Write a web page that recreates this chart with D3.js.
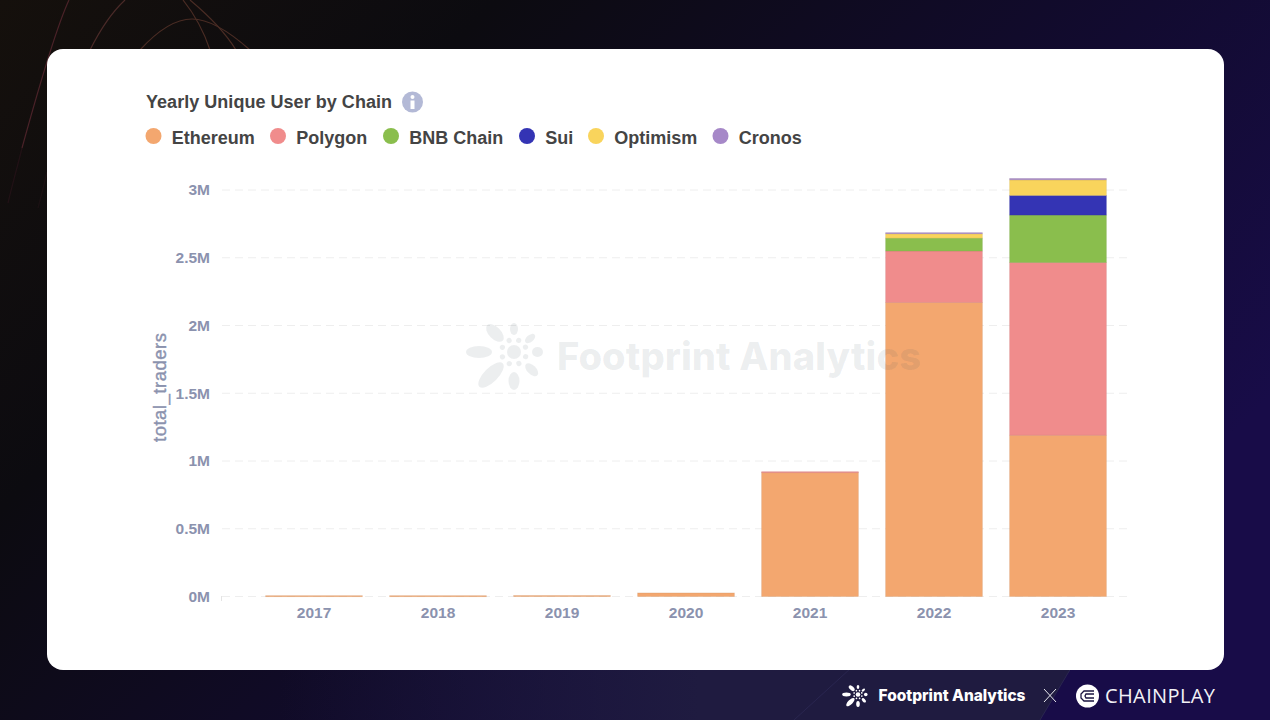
<!DOCTYPE html>
<html>
<head>
<meta charset="utf-8">
<script src="https://cdn.jsdelivr.net/npm/d3@7"></script>
<style>
  html, body { margin: 0; padding: 0; background: #0d0a1c; overflow: hidden; }
  svg { display: block; font-family: "Liberation Sans", Arial, sans-serif; }
</style>
</head>
<body>
<script>
// Chart values (millions of traders)
const years = ['2017', '2018', '2019', '2020', '2021', '2022', '2023'];
const chains = ['Ethereum', 'Polygon', 'BNB Chain', 'Sui', 'Optimism', 'Cronos'];
const ethereum = [0.006, 0.006, 0.007, 0.026, 0.915, 2.17, 1.19];
const polygon = [0, 0, 0, 0, 0.006, 0.38, 1.275];
const bnbChain = [0, 0, 0, 0, 0, 0.095, 0.35];
const sui = [0, 0, 0, 0, 0, 0, 0.145];
const optimism = [0, 0, 0, 0, 0, 0.032, 0.115];
const cronos = [0, 0, 0, 0, 0, 0.008, 0.01];
const yTicks = [0, 0.5, 1, 1.5, 2, 2.5, 3];
const colors = ['#f3a76f', '#f08c8c', '#8abe4d', '#3434b4', '#f9d45c', '#a688c8'];

const width = 1270, height = 720;
const svg = d3.select('body').append('svg')
    .attr('width', width)
    .attr('height', height);

// Page background
const defs = svg.append('defs');
const bg = defs.append('linearGradient').attr('id', 'bg')
    .attr('x1', '0%').attr('y1', '0%').attr('x2', '100%').attr('y2', '55%');
bg.append('stop').attr('offset', '0%').attr('stop-color', '#15100c');
bg.append('stop').attr('offset', '30%').attr('stop-color', '#0c0b10');
bg.append('stop').attr('offset', '70%').attr('stop-color', '#120b30');
bg.append('stop').attr('offset', '100%').attr('stop-color', '#180c48');
svg.append('rect').attr('width', width).attr('height', height).attr('fill', 'url(#bg)');

const glow = defs.append('linearGradient').attr('id', 'glow')
    .attr('gradientUnits', 'userSpaceOnUse')
    .attr('x1', 280).attr('y1', 0).attr('x2', 700).attr('y2', 0);
glow.append('stop').attr('offset', '0%').attr('stop-color', '#1e1a40').attr('stop-opacity', 0);
glow.append('stop').attr('offset', '100%').attr('stop-color', '#1f1b40').attr('stop-opacity', 1);
svg.append('path')
    .attr('d', 'M280,720 L280,660 L1076,660 L1040,720 Z')
    .attr('fill', 'url(#glow)');
svg.append('path')
    .attr('d', 'M851,668 L794,720 M1071,668 L1040,720')
    .attr('fill', 'none').attr('stroke', '#2a2650').attr('stroke-width', 1);

// Curves in the top left corner
const curves = [
    ['M69,0 C55,30 38,90 22,148', '#4a2228', 1],
    ['M22,148 C18,165 12,185 8,203', '#4a1c2c', 0.3],
    ['M47,172 C44,185 41,197 38,208', '#3a1c24', 0.25],
    ['M125,0 C112,12 100,30 90,50', '#4a2a28', 1],
    ['M140,50 C160,28 178,19 192,19 C210,19 232,34 250,50', '#4a2c24', 1],
    ['M183,0 C195,15 205,35 210,50', '#4a2c24', 1],
    ['M190,0 C208,15 225,32 236,50', '#4a2c24', 1]
];
svg.selectAll('.curve').data(curves).enter().append('path')
    .attr('class', 'curve')
    .attr('d', d => d[0])
    .attr('fill', 'none')
    .attr('stroke', d => d[1])
    .attr('stroke-opacity', d => d[2])
    .attr('stroke-width', 1.2);

// White card
svg.append('rect')
    .attr('x', 47).attr('y', 49)
    .attr('width', 1177).attr('height', 621)
    .attr('rx', 16)
    .attr('fill', '#fff');

// Title and info icon
svg.append('text')
    .attr('x', 146).attr('y', 108)
    .attr('font-size', 18).attr('font-weight', 700)
    .attr('fill', '#444')
    .attr('textLength', 246)
    .text('Yearly Unique User by Chain');
const info = svg.append('g').attr('transform', 'translate(412.5,102)');
info.append('circle').attr('r', 10.5).attr('fill', '#b3b9d6');
info.append('circle').attr('cy', -5).attr('r', 2).attr('fill', '#fff');
info.append('rect').attr('x', -2).attr('y', -1.5).attr('width', 4).attr('height', 8.5).attr('fill', '#fff');

// Legend
const legendX = [153.5, 278, 391, 527, 596, 720.5];
const legend = svg.selectAll('.legend').data(chains).enter().append('g')
    .attr('class', 'legend')
    .attr('transform', (d, i) => `translate(${legendX[i]},136)`);
legend.append('circle').attr('r', 8).attr('fill', (d, i) => colors[i]);
legend.append('text')
    .attr('x', 18.3).attr('y', 8)
    .attr('font-size', 18).attr('font-weight', 700)
    .attr('fill', '#444')
    .text(d => d);

// Scales
const x = d3.scaleBand().domain(years).range([252, 1120]).paddingInner(0.22).paddingOuter(0.11);
const y = d3.scaleLinear().domain([0, 3]).range([596.5, 190]);

// Grid lines
svg.selectAll('.grid').data(yTicks).enter().append('line')
    .attr('class', 'grid')
    .attr('x1', 222).attr('x2', 1130)
    .attr('y1', d => y(d)).attr('y2', d => y(d))
    .attr('stroke', '#eeeeee')
    .attr('stroke-dasharray', '8 5');
svg.append('line').attr('x1', 221.5).attr('x2', 221.5).attr('y1', 596).attr('y2', 601).attr('stroke', '#e4e4e4');

// Axes
svg.append('g')
    .attr('transform', 'translate(210,0)')
    .call(d3.axisLeft(y).tickValues(yTicks).tickSize(0).tickPadding(0)
        .tickFormat(d => d + 'M'));
svg.append('g')
    .attr('transform', 'translate(0,596.5)')
    .call(d3.axisBottom(x).tickSize(0).tickPadding(10));
svg.selectAll('.domain').remove();
svg.selectAll('.tick text')
    .attr('font-family', '"Liberation Sans", Arial, sans-serif')
    .attr('font-size', 15.5).attr('font-weight', 700)
    .attr('fill', '#8b92ae');
svg.append('text')
    .attr('transform', 'translate(166,442) rotate(-90)')
    .attr('font-size', 18.5).attr('font-weight', 400)
    .attr('fill', '#8b92ae')
    .attr('stroke', '#8b92ae').attr('stroke-width', 0.4)
    .attr('textLength', 109)
    .text('total_traders');

// Stacked bars
const table = years.map((year, i) => ({
    year,
    Ethereum: ethereum[i],
    Polygon: polygon[i],
    'BNB Chain': bnbChain[i],
    Sui: sui[i],
    Optimism: optimism[i],
    Cronos: cronos[i]
}));
const stacked = d3.stack().keys(chains)(table);
svg.selectAll('.series').data(stacked).enter().append('g')
    .attr('class', 'series')
    .attr('fill', (d, i) => colors[i])
    .attr('stroke', (d, i) => d3.color(colors[i]).darker(0.5))
    .attr('stroke-opacity', 0.35)
    .attr('stroke-width', 0.8)
    .selectAll('rect')
    .data(d => d.filter(p => p[1] > p[0]))
    .enter().append('rect')
    .attr('x', d => x(d.data.year))
    .attr('y', d => y(d[1]))
    .attr('width', x.bandwidth())
    .attr('height', d => Math.max(y(d[0]) - y(d[1]), 1));

// Flower logo, used for the watermark and the footer
const petals = [
    [0, 17, 29, 4], [50, 15, 27, 3.5], [90, 18, 29, 5], [135, 17, 33, 4.5],
    [180, 20, 38, 5.5], [225, 16, 49, 7], [270, 22, 48, 6], [315, 16, 38, 6]
];
const mark = (g, fill, scale) => {
    g.attr('fill', fill);
    petals.forEach(p => {
        g.append('ellipse')
            .attr('cy', -(p[1] + p[2]) / 2 * scale)
            .attr('rx', p[3] * scale)
            .attr('ry', (p[2] - p[1]) / 2 * scale)
            .attr('transform', `rotate(${p[0]})`);
    });
    g.append('circle').attr('r', 7 * scale);
    d3.range(8).forEach(i => {
        g.append('circle')
            .attr('cy', -12.5 * scale)
            .attr('r', 2.6 * scale)
            .attr('transform', `rotate(${i * 45 + 22})`);
    });
};

// Watermark, sits on top of the bars
mark(svg.append('g').attr('transform', 'translate(514,352)'), 'rgba(70,85,100,0.1)', 1);
svg.append('text')
    .attr('x', 557).attr('y', 370)
    .attr('font-family', 'Inter, sans-serif')
    .attr('font-size', 38).attr('font-weight', 800)
    .attr('fill', 'rgba(70,85,100,0.1)')
    .attr('textLength', 364)
    .text('Footprint Analytics');

// Footer logos
mark(svg.append('g').attr('transform', 'translate(858,694.5)'), '#fff', 0.33);
svg.append('text')
    .attr('x', 878.5).attr('y', 701)
    .attr('font-family', 'Inter, sans-serif')
    .attr('font-size', 15.5).attr('font-weight', 800)
    .attr('fill', '#fff')
    .attr('textLength', 147)
    .text('Footprint Analytics');
svg.append('path')
    .attr('d', 'M1044,689 L1056,702 M1056,689 L1044,702')
    .attr('stroke', '#e8e8ee').attr('stroke-width', 1);
svg.append('circle').attr('cx', 1087.5).attr('cy', 696).attr('r', 11.5).attr('fill', '#fff');
svg.append('path')
    .attr('d', 'M1094,691 L1084,691 L1081,694 L1081,698 L1084,701 L1094,701 M1094,694 L1086,694 L1085,696 L1086,698 L1094,698')
    .attr('fill', 'none').attr('stroke', '#1a1440').attr('stroke-width', 1.3);
svg.append('text')
    .attr('x', 1105).attr('y', 703)
    .attr('font-family', '"Open Sans", sans-serif')
    .attr('font-size', 20)
    .attr('fill', '#f2f2f6')
    .attr('textLength', 110)
    .text('CHAINPLAY');
</script>
</body>
</html>
